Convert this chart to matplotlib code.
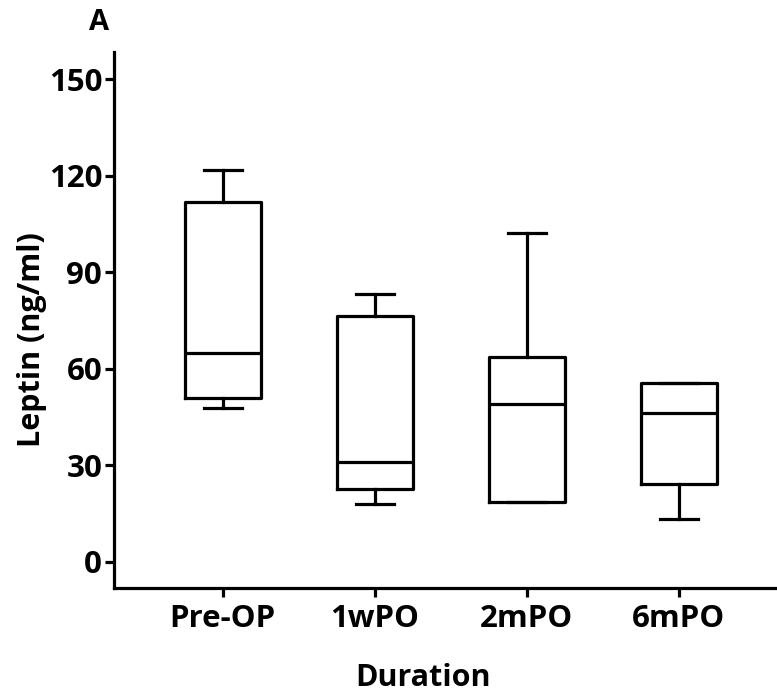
import matplotlib

matplotlib.use("Agg")

import matplotlib.pyplot as plt

plt.rcParams["font.family"] = ["Open Sans", "DejaVu Sans"]
plt.rcParams["font.weight"] = "bold"

groups = ["Pre-OP", "1wPO", "2mPO", "6mPO"]
whisker_low = [47.7, 17.9, 18.5, 13.4]
q1 = [51.0, 22.7, 18.5, 24.1]
median = [64.9, 30.9, 49.0, 46.1]
q3 = [111.9, 76.4, 63.5, 55.4]
whisker_high = [121.7, 83.2, 102.0, 55.4]
y_ticks = [0, 30, 60, 90, 120, 150]

stats = []
for i, g in enumerate(groups):
    stats.append({
        "label": g,
        "whislo": whisker_low[i],
        "q1": q1[i],
        "med": median[i],
        "q3": q3[i],
        "whishi": whisker_high[i],
        "fliers": [],
    })

fig = plt.figure(figsize=(7.77, 6.98), dpi=100)
ax = fig.add_axes([0.1467, 0.157, 0.86, 0.7685])

lw = 2.3
line_style = dict(color="black", linewidth=lw)
ax.bxp(stats, positions=[1, 2, 3, 4], widths=0.5, showfliers=False,
       boxprops=line_style, medianprops=line_style,
       whiskerprops=line_style, capprops=line_style, capwidths=0.25)

ax.set_xlim(0.285, 4.68)
ax.set_ylim(-8.3, 158.4)
ax.set_yticks(y_ticks)
ax.set_xticks([1, 2, 3, 4])
ax.set_xticklabels(groups)

for side in ["top", "right"]:
    ax.spines[side].set_visible(False)
for side in ["left", "bottom"]:
    ax.spines[side].set_linewidth(lw)

ax.tick_params(axis="both", width=lw, length=6.5, labelsize=22.5, colors="black")
ax.tick_params(axis="y", pad=2)
ax.tick_params(axis="x", pad=5)

fig.text(0.041, 0.513, "Leptin (ng/ml)", fontsize=22, fontweight="bold",
         rotation=90, ha="center", va="center")
fig.text(0.544, 0.029, "Duration", fontsize=22, fontweight="bold",
         ha="center", va="center")
fig.text(0.127, 0.968, "A", fontsize=21, fontweight="bold", ha="center", va="center")

fig.savefig("out.png", dpi=100)
plt.close(fig)
